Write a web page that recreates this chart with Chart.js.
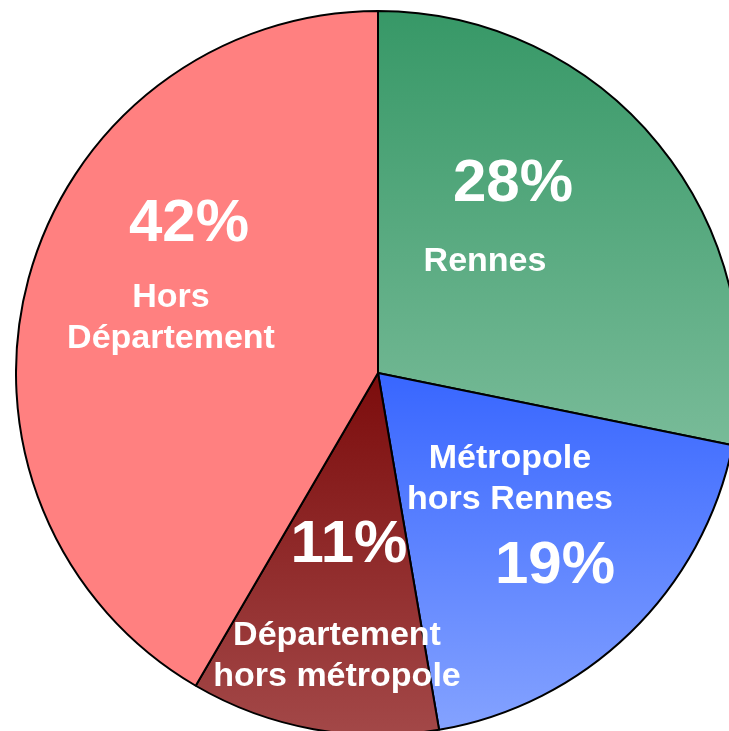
<!DOCTYPE html>
<html>
<head>
<meta charset="utf-8">
<script src="https://cdn.jsdelivr.net/npm/chart.js@4"></script>
<style>
  html, body { margin: 0; padding: 0; background: #fff; overflow: hidden; width: 729px; height: 731px; }
  #wrap { position: absolute; left: 15px; top: 10px; width: 726px; height: 726px; }
</style>
</head>
<body>
<div id="wrap"><canvas id="pie"></canvas></div>
<script>
// ── Data ───────────────────────────────────────────────────────
const categories = ['Rennes', 'Métropole hors Rennes', 'Département hors métropole', 'Hors Département'];
const shares = [28.2, 19.1, 11.1, 41.6];
const pctLabels = ['28%', '19%', '11%', '42%'];
const nameLines = [['Rennes'], ['Métropole', 'hors Rennes'], ['Département', 'hors métropole'], ['Hors', 'Département']];

// gradient stops per slice: [top colour, bottom colour, top y, bottom y] (y as fraction of radius from centre)
const sliceFills = [
  ['#379867', '#78bb98', -1.0, 0.2],
  ['#3866ff', '#85a3ff', 0.0, 1.0],
  ['#7c0c0c', '#a34848', 0.0, 1.0],
  ['#ff8080', '#ff8080', -1.0, 1.0],
];

// label anchors, offsets from pie centre in px: [pctX, pctY, nameX, nameY]
const labelPos = [
  [135, -172, 107, -102],
  [177, 210, 132, 95],
  [-29, 189, -41, 272],
  [-189, -132, -207, -66],
];

// ── Helpers ────────────────────────────────────────────────────
function sliceFill(context) {
  const chart = context.chart;
  const area = chart.chartArea;
  if (!area) return sliceFills[context.dataIndex][0];
  const [c0, c1, t, b] = sliceFills[context.dataIndex];
  const cy = (area.top + area.bottom) / 2;
  const r = (Math.min(area.right - area.left, area.bottom - area.top) - 2) / 2;
  const g = chart.ctx.createLinearGradient(0, cy + t * r, 0, cy + b * r);
  g.addColorStop(0, c0);
  g.addColorStop(1, c1);
  return g;
}

const labelPlugin = {
  id: 'sliceLabels',
  afterDatasetsDraw(chart) {
    const { ctx } = chart;
    const arc = chart.getDatasetMeta(0).data[0];
    const cx = arc.x, cy = arc.y;
    ctx.save();
    ctx.fillStyle = '#fff';
    ctx.textAlign = 'center';
    ctx.textBaseline = 'alphabetic';
    labelPos.forEach((p, i) => {
      ctx.font = 'bold 60px "Liberation Sans", Arial, sans-serif';
      ctx.fillText(pctLabels[i], cx + p[0], cy + p[1]);
      ctx.font = 'bold 34px "Liberation Sans", Arial, sans-serif';
      nameLines[i].forEach((line, j) => {
        ctx.fillText(line, cx + p[2], cy + p[3] + j * 41);
      });
    });
    ctx.restore();
  }
};

// ── Chart ──────────────────────────────────────────────────────
new Chart(document.getElementById('pie'), {
  type: 'pie',
  data: {
    labels: categories,
    datasets: [{
      data: shares,
      backgroundColor: sliceFill,
      borderColor: '#000',
      borderWidth: 2,
    }],
  },
  options: {
    responsive: true,
    maintainAspectRatio: false,
    animation: false,
    layout: { padding: 0 },
    plugins: {
      legend: { display: false },
      tooltip: { enabled: false },
    },
  },
  plugins: [labelPlugin],
});
</script>
</body>
</html>
